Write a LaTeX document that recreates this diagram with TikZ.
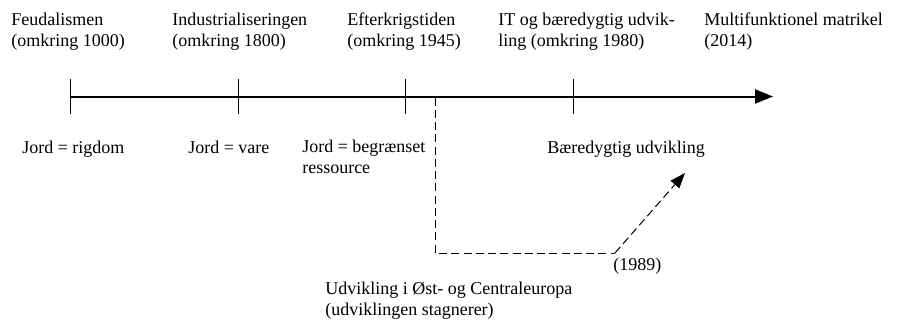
\documentclass[tikz,border=0pt]{standalone}
\usepackage{fontspec}
\setmainfont{Liberation Serif}
\usetikzlibrary{arrows.meta}
\begin{document}
\begin{tikzpicture}[x=0.75pt,y=-0.75pt,
  lbl/.style={anchor=base west,inner sep=0pt,align=left,
    font=\fontsize{13.5}{15.4}\selectfont},
  axisline/.style={line width=1.5pt,-{Triangle[length=13.5pt,width=10.5pt]}},
  tickmark/.style={line width=0.75pt},
  dashline/.style={line width=0.75pt,dash pattern=on 6pt off 3.2pt},
  dasharrow/.style={dashline,-{Triangle[length=11.5pt,width=8.5pt]}}]
\useasboundingbox (0,0) rectangle (897,325);

% time axis
\coordinate (axL) at (70,96.5);
\coordinate (axR) at (773,96.5);
\draw[axisline] (axL) -- (axR);

% tick marks
\foreach \n/\x in {1/70,2/238,3/405,4/573}{
  \coordinate (tk\n a) at (\x,79);
  \coordinate (tk\n b) at (\x,114);
  \draw[tickmark] (tk\n a) -- (tk\n b);
}

% eras above the axis (anchored at the baseline of the last line)
\node[lbl] (era1) at (11,46.5) {Feudalismen\\(omkring 1000)};
\node[lbl] (era2) at (172,46.5) {Industrialiseringen\\(omkring 1800)};
\node[lbl] (era3) at (347,46.5) {Efterkrigstiden\\(omkring 1945)};
\node[lbl] (era4) at (498,46.5) {IT og b\ae redygtig udvik-\\ling (omkring 1980)};
\node[lbl] (era5) at (704,46.5) {Multifunktionel matrikel\\(2014)};

% views of land below the axis
\node[lbl] (view1) at (22,153) {Jord = rigdom};
\node[lbl] (view2) at (188,153) {Jord = vare};
\node[lbl] (view3) at (302,173.5) {Jord = begr\ae nset\\ressource};
\node[lbl] (view4) at (547,153) {B\ae redygtig udvikling};

% Eastern and Central Europe detour
\coordinate (d0) at (435,97.5);
\coordinate (d1) at (435,253);
\coordinate (d2) at (615,253);
\coordinate (d3) at (685,173);
\draw[dashline] (d0) -- (d1) -- (d2);
\draw[dasharrow] (d2) -- (d3);
\node[lbl] (yr) at (613,270) {(1989)};
\node[lbl] (east) at (325,315.5) {Udvikling i \O st- og Centraleuropa\\(udviklingen stagnerer)};
\end{tikzpicture}
\end{document}
